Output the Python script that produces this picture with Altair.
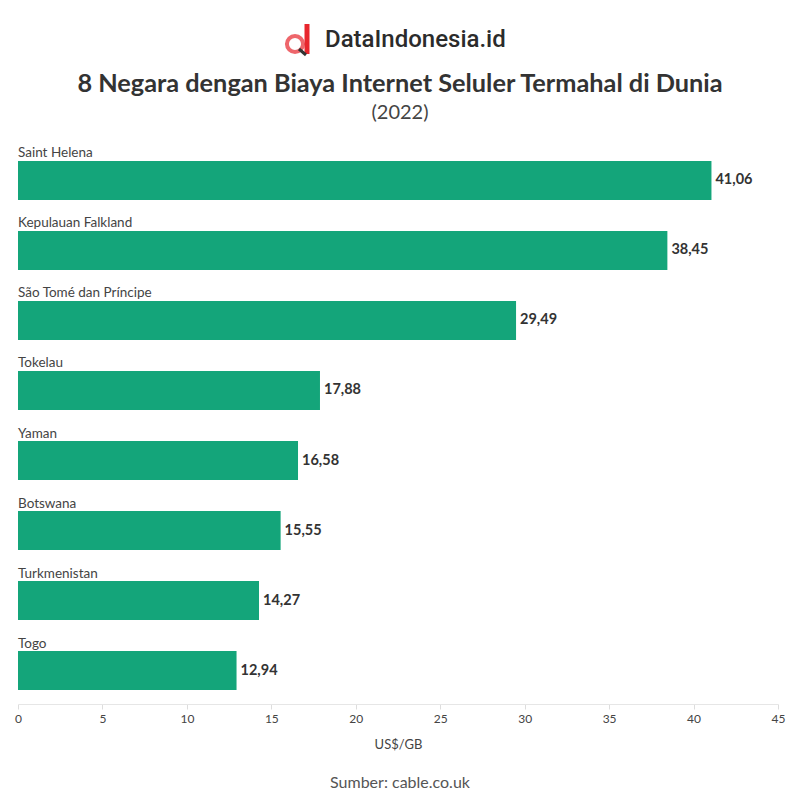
import altair as alt
import pandas as pd

countries = ["Saint Helena", "Kepulauan Falkland", "São Tomé dan Príncipe", "Tokelau",
             "Yaman", "Botswana", "Turkmenistan", "Togo"]
values = [41.06, 38.45, 29.49, 17.88, 16.58, 15.55, 14.27, 12.94]
x_ticks = [0, 5, 10, 15, 20, 25, 30, 35, 40, 45]

title_text = "8 Negara dengan Biaya Internet Seluler Termahal di Dunia"
subtitle_text = "(2022)"
logo_text = "DataIndonesia.id"
source_text = "Sumber: cable.co.uk"
x_title = "US$/GB"

df = pd.DataFrame({
    "country": countries,
    "value": values,
    "label": [f"{v:.2f}".replace(".", ",") for v in values],
})

FONT = "Lato"
BAR = "#14a57a"
W, H = 760, 557

y_enc = alt.Y("country:N", sort=countries, axis=None,
              scale=alt.Scale(paddingInner=0.443, paddingOuter=0.2))
x_enc = alt.X("value:Q",
              scale=alt.Scale(domain=[0, 45], nice=False),
              axis=alt.Axis(values=x_ticks, grid=False, title=x_title,
                            labelFont=FONT, labelFontSize=12, labelColor="#444",
                            labelFlush=False,
                            titleFont=FONT, titleFontSize=13, titleColor="#444",
                            titleFontWeight="normal", titlePadding=14,
                            domainColor="#e6e6e6", tickColor="#dddddd", tickSize=5,
                            labelPadding=4))

base = alt.Chart(df)
bars = base.mark_bar(color=BAR).encode(x=x_enc, y=y_enc)
values_txt = base.mark_text(align="left", baseline="middle", dx=4, font=FONT,
                            fontSize=14.5, fontWeight="bold", color="#333").encode(
    x="value:Q", y=alt.Y("country:N", sort=countries), text="label:N")
names_txt = base.mark_text(align="left", baseline="bottom", dy=-20, font=FONT,
                           fontSize=13.5, color="#444").encode(
    x=alt.value(0), y=alt.Y("country:N", sort=countries), text="country:N")

one = pd.DataFrame({"t": [logo_text], "s": [source_text],
                    "ti": [title_text], "su": [subtitle_text]})
title = alt.Chart(one).mark_text(align="center", baseline="middle", font=FONT,
                                 fontSize=25.3, fontWeight="bold", color="#333").encode(
    x=alt.value(382), y=alt.value(-63), text="ti:N")
subtitle = alt.Chart(one).mark_text(align="center", baseline="middle", font=FONT,
                                    fontSize=20, color="#444").encode(
    x=alt.value(382), y=alt.value(-34), text="su:N")
logo = alt.Chart(one).mark_text(align="left", baseline="middle", font="Roboto",
                                fontSize=24, fontWeight=500, color="#2b2b2b").encode(
    x=alt.value(307), y=alt.value(-107), text="t:N")
source = alt.Chart(one).mark_text(align="center", baseline="middle", font=FONT,
                                  fontSize=16, color="#555").encode(
    x=alt.value(382), y=alt.value(636), text="s:N")
ring = alt.Chart(one).mark_point(shape="circle", filled=False, color="#e8262d",
                                 strokeWidth=4, size=260).encode(
    x=alt.value(277), y=alt.value(-103))
stem = alt.Chart(one).mark_rule(color="#e8262d", strokeWidth=5).encode(
    x=alt.value(289), y=alt.value(-123), y2=alt.value(-93))
handle = alt.Chart(one).mark_rule(color="#333", strokeWidth=3).encode(
    x=alt.value(281), x2=alt.value(288), y=alt.value(-98), y2=alt.value(-92))

chart = alt.layer(bars, values_txt, names_txt, title, subtitle, logo, source,
                  ring, stem, handle).properties(
    width=W, height=H,
    autosize=alt.AutoSizeParams(type="none"),
    padding={"left": 10, "top": 139, "right": 14, "bottom": 88},
).configure_view(stroke=None)

chart.save("out.html", embed_options={"renderer": "svg", "actions": False})
